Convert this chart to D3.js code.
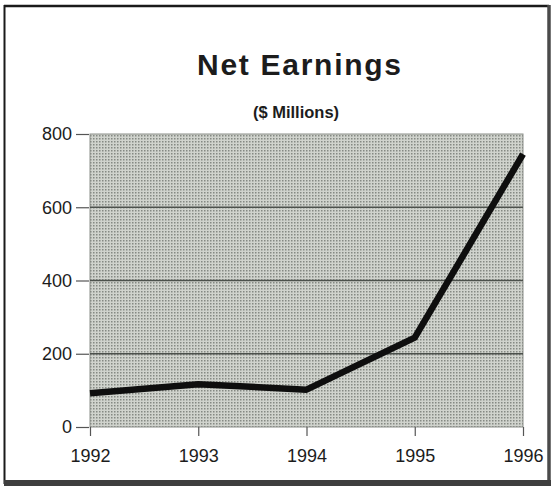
<!DOCTYPE html>
<html>
<head>
<meta charset="utf-8">
<script src="https://cdn.jsdelivr.net/npm/d3@7"></script>
<style>
  html, body { margin: 0; padding: 0; background: #ffffff; }
  svg { display: block; }
  text { font-family: "Liberation Sans", Arial, Helvetica, sans-serif; fill: #1c1c1c; }
</style>
</head>
<body>
<svg id="chart" width="553" height="488"></svg>
<script>
// Net earnings by year, $ millions
const years = [1992, 1993, 1994, 1995, 1996];
const earnings = [92, 117, 102, 244, 745];
const yTicks = [0, 200, 400, 600, 800];
const gridValues = [200, 400, 600];
const titleText = "Net Earnings";
const subtitleText = "($ Millions)";

const svg = d3.select("#chart");
const plot = { left: 90, right: 523, top: 134, bottom: 427 };

// Screened grey fill for the plotting area
const defs = svg.append("defs");
const pat = defs.append("pattern")
  .attr("id", "screen")
  .attr("patternUnits", "userSpaceOnUse")
  .attr("width", 3).attr("height", 3);
pat.append("rect").attr("width", 3).attr("height", 3).attr("fill", "#d0d3cd");
pat.append("rect").attr("width", 1.5).attr("height", 1.5).attr("fill", "#858983");

// Outer frame
const frame = svg.append("g");
frame.append("line").attr("x1", 4).attr("y1", 6).attr("x2", 549).attr("y2", 6)
  .attr("stroke", "#1a1a1a").attr("stroke-width", 2.5);
frame.append("line").attr("x1", 4.5).attr("y1", 5).attr("x2", 4.5).attr("y2", 484)
  .attr("stroke", "#1a1a1a").attr("stroke-width", 2);
frame.append("line").attr("x1", 549).attr("y1", 5).attr("x2", 549).attr("y2", 486)
  .attr("stroke", "#4a4a4a").attr("stroke-width", 3.5);
frame.append("rect").attr("x", 4).attr("y", 480).attr("width", 547).attr("height", 6)
  .attr("fill", "#3e3e3e");

// Scales
const x = d3.scaleLinear().domain([years[0], years[years.length - 1]])
  .range([plot.left, plot.right]);
const y = d3.scaleLinear().domain([0, 800]).range([plot.bottom, plot.top]);

// Plot background
svg.append("rect")
  .attr("x", plot.left).attr("y", plot.top)
  .attr("width", plot.right - plot.left).attr("height", plot.bottom - plot.top)
  .attr("fill", "url(#screen)")
  .attr("stroke", "#8c8f8a").attr("stroke-width", 1);

// Horizontal gridlines
svg.append("g").selectAll("line").data(gridValues).join("line")
  .attr("x1", plot.left).attr("x2", plot.right)
  .attr("y1", d => y(d)).attr("y2", d => y(d))
  .attr("stroke", "#4c514c").attr("stroke-width", 1.5);

// Y axis
const yAxis = svg.append("g")
  .attr("transform", `translate(${plot.left - 1},0)`)
  .call(d3.axisLeft(y).tickValues(yTicks).tickSize(13).tickPadding(4).tickFormat(d3.format("d")));
yAxis.select(".domain").remove();
yAxis.selectAll(".tick line").attr("stroke", "#555").attr("stroke-width", 1.2);
yAxis.selectAll(".tick text").attr("font-size", 18).attr("fill", "#1c1c1c")
  .style("font-family", '"Liberation Sans", Arial, Helvetica, sans-serif');

// X axis
const xAxis = svg.append("g")
  .attr("transform", `translate(0,${plot.bottom})`)
  .call(d3.axisBottom(x).tickValues(years).tickSize(9).tickPadding(13).tickFormat(d3.format("d")));
xAxis.select(".domain").remove();
xAxis.selectAll(".tick line").attr("stroke", "#555").attr("stroke-width", 1.2);
xAxis.selectAll(".tick text").attr("font-size", 18).attr("fill", "#1c1c1c")
  .style("font-family", '"Liberation Sans", Arial, Helvetica, sans-serif');

// Earnings line
const line = d3.line().x((d, i) => x(years[i])).y(d => y(d));
svg.append("path")
  .datum(earnings)
  .attr("d", line)
  .attr("fill", "none")
  .attr("stroke", "#0e0e0e")
  .attr("stroke-width", 6.5)
  .attr("stroke-linejoin", "round")
  .attr("stroke-linecap", "butt");

// Titles
svg.append("text")
  .attr("x", 299).attr("y", 75)
  .attr("text-anchor", "middle")
  .attr("font-size", 30).attr("font-weight", "bold")
  .attr("textLength", 204).attr("lengthAdjust", "spacing")
  .text(titleText);
svg.append("text")
  .attr("x", 296).attr("y", 117.5)
  .attr("text-anchor", "middle")
  .attr("font-size", 16.5).attr("font-weight", "bold")
  .text(subtitleText);
</script>
</body>
</html>
